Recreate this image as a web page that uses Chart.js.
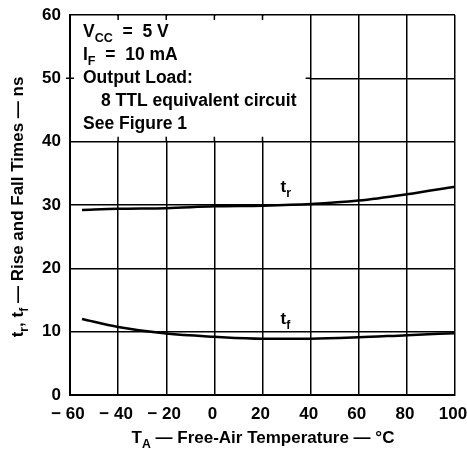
<!DOCTYPE html>
<html>
<head>
<meta charset="utf-8">
<script src="https://cdn.jsdelivr.net/npm/chart.js@4"></script>
<style>
  body { margin: 0; background: #fff; }
  canvas { display: block; }
</style>
</head>
<body>
<canvas id="myChart" width="467" height="451"></canvas>
<script>
// values
const temps = [-55, -40, -20, 0, 20, 40, 60, 80, 100];
const riseTimes = [29.2, 29.4, 29.5, 29.8, 29.9, 30.15, 30.7, 31.7, 32.9];
const fallTimes = [12.0, 10.75, 9.7, 9.2, 8.9, 8.9, 9.1, 9.45, 9.75];
const xTicks = [-60, -40, -20, 0, 20, 40, 60, 80, 100];
const yTicks = [0, 10, 20, 30, 40, 50, 60];

const FONT = '"Liberation Sans", Arial, Helvetica, sans-serif';

// draw text with subscript pieces: parts = [[text, isSub], ...]
function drawRich(ctx, parts, x, y, size, align) {
	let w = 0;
	parts.forEach(p => {
		ctx.font = 'bold ' + (p[1] ? size * 0.72 : size) + 'px ' + FONT;
		w += ctx.measureText(p[0]).width;
	});
	let cx = align === 'center' ? x - w / 2 : x;
	ctx.textAlign = 'left';
	ctx.textBaseline = 'alphabetic';
	parts.forEach(p => {
		ctx.font = 'bold ' + (p[1] ? size * 0.72 : size) + 'px ' + FONT;
		ctx.fillText(p[0], cx, p[1] ? y + size * 0.28 : y);
		cx += ctx.measureText(p[0]).width;
	});
}

const notes = {
	id: 'notes',
	beforeDatasetsDraw(chart) {
		const {ctx, chartArea, scales} = chart;
		const x = scales.x, y = scales.y;
		const bx = x.getPixelForValue(40), by = y.getPixelForValue(40);
		ctx.save();
		// white box for the conditions text
		ctx.fillStyle = '#fff';
		ctx.fillRect(chartArea.left + 1, chartArea.top + 1, bx - chartArea.left - 2, by - chartArea.top - 2);
		ctx.strokeStyle = '#000';
		ctx.lineWidth = 1.5;
		ctx.beginPath();
		[-40, -20, 0, 20].forEach(v => {
			const px = x.getPixelForValue(v);
			ctx.moveTo(px, chartArea.top); ctx.lineTo(px, chartArea.top + 5);
			ctx.moveTo(px, by); ctx.lineTo(px, by - 5);
		});
		const py = y.getPixelForValue(50);
		ctx.moveTo(chartArea.left - 4, py); ctx.lineTo(chartArea.left + 4, py);
		ctx.moveTo(bx - 5, py); ctx.lineTo(bx, py);
		ctx.stroke();

		ctx.fillStyle = '#000';
		const lx = chartArea.left + 13;
		drawRich(ctx, [['V', 0], ['CC', 1], ['  =  5 V', 0]], lx, 37, 17.5);
		drawRich(ctx, [['I', 0], ['F', 1], ['  =  10 mA', 0]], lx, 60, 17.5);
		drawRich(ctx, [['Output Load:', 0]], lx, 83, 17.5);
		drawRich(ctx, [['8 TTL equivalent circuit', 0]], lx + 18, 106, 17.5);
		drawRich(ctx, [['See Figure 1', 0]], lx, 129, 17.5);

		// curve labels
		drawRich(ctx, [['t', 0], ['r', 1]], x.getPixelForValue(27.5), 192, 17);
		drawRich(ctx, [['t', 0], ['f', 1]], x.getPixelForValue(27.5), 324, 17);

		// axis titles
		drawRich(ctx, [['T', 0], ['A', 1], [' \u2014 Free-Air Temperature \u2014 \u00B0C', 0]], 263, 443, 17, 'center');
		ctx.translate(23, 207);
		ctx.rotate(-Math.PI / 2);
		drawRich(ctx, [['t', 0], ['r', 1], [', t', 0], ['f', 1], [' \u2014 Rise and Fall Times \u2014 ns', 0]], 0, 0, 17, 'center');
		ctx.restore();
	}
};

const ctx = document.getElementById('myChart');

const chart = new Chart(ctx, {
	type: 'line',
	data: {
		datasets: [{
			label: 'tr',
			data: temps.map((t, i) => ({x: t, y: riseTimes[i]})),
			borderColor: '#000',
			borderWidth: 2.5,
			pointRadius: 0,
			cubicInterpolationMode: 'monotone'
		}, {
			label: 'tf',
			data: temps.map((t, i) => ({x: t, y: fallTimes[i]})),
			borderColor: '#000',
			borderWidth: 2.5,
			pointRadius: 0,
			cubicInterpolationMode: 'monotone'
		}]
	},
	options: {
		responsive: false,
		animation: false,
		layout: { padding: { top: 15, right: 12, left: 0, bottom: 0 } },
		plugins: { legend: { display: false }, tooltip: { enabled: false } },
		scales: {
			x: {
				type: 'linear',
				min: -60, max: 100,
				afterBuildTicks: s => { s.ticks = xTicks.map(v => ({value: v})); },
				afterFit: s => { s.height = 56; s.paddingRight = 0; s.paddingLeft = 0; },
				grid: { color: '#000', lineWidth: 1.5, drawTicks: false },
				border: { color: '#000', width: 2 },
				ticks: {
					color: '#000', padding: 9, labelOffset: -2,
					font: { family: FONT, size: 17, weight: 'bold' },
					callback: v => v < 0 ? '\u2212 ' + Math.abs(v) : v
				}
			},
			y: {
				min: 0, max: 60,
				afterBuildTicks: s => { s.ticks = yTicks.map(v => ({value: v})); },
				afterFit: s => { s.width = 70; s.paddingTop = 0; s.paddingBottom = 0; },
				grid: { color: '#000', lineWidth: 1.5, drawTicks: false },
				border: { color: '#000', width: 2 },
				ticks: {
					color: '#000', padding: 9,
					font: { family: FONT, size: 17, weight: 'bold' }
				}
			}
		}
	},
	plugins: [notes]
});
</script>
</body>
</html>
